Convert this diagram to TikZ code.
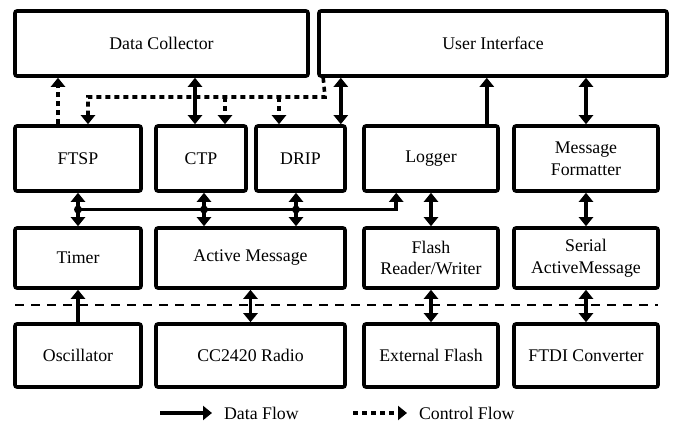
\documentclass[tikz,border=0pt]{standalone}
\usepackage{fontspec}
\setmainfont{Liberation Serif}
\usetikzlibrary{positioning, arrows.meta, calc}
\tikzset{
    >={Triangle[width=7pt,length=4.5pt]}, % filled heads
    blk/.style={draw, line width=1.8pt, rounded corners=1pt, inner sep=0pt, align=center},
    data/.style={line width=1.8pt},
    ctrl/.style={line width=1.8pt, dash pattern=on 2.5pt off 2pt},
    sep/.style={line width=0.7pt, dash pattern=on 4.5pt off 3.5pt},
    every node/.style={font=\fontsize{8.9}{10.8}\selectfont},
}

\begin{document}
\begin{tikzpicture}[x=0.5pt, y=-0.5pt]
  \useasboundingbox (0,0) rectangle (681,427);

  % applications
  \node[blk, minimum width=146.5pt, minimum height=32.5pt] (dc) at (161.5,43.5) {Data Collector};
  \node[blk, minimum width=174pt, minimum height=32.5pt] (ui) at (493,43.5) {User Interface};

  % services
  \node[blk, minimum width=63pt, minimum height=32.5pt] (ftsp) at (78,158.5) {FTSP};
  \node[blk, minimum width=45pt, minimum height=32.5pt] (ctp) at (201,158.5) {CTP};
  \node[blk, minimum width=44.5pt, minimum height=32.5pt] (drip) at (300.5,158.5) {DRIP};
  \node[blk, minimum width=67pt, minimum height=32.5pt] (logger) at (431,158.5) {Logger};
  \node[blk, minimum width=72pt, minimum height=32.5pt] (mf) at (586,158.5) {Message\\Formatter};

  % drivers
  \node[blk, minimum width=63pt, minimum height=30pt] (timer) at (78,258) {Timer};
  \node[blk, minimum width=94.5pt, minimum height=30pt] (am) at (250.5,258) {Active Message};
  \node[blk, minimum width=67pt, minimum height=30pt] (flash) at (431,258) {Flash\\Reader/Writer};
  \node[blk, minimum width=72pt, minimum height=30pt] (sam) at (586,258) {Serial\\ActiveMessage};

  % hardware
  \node[blk, minimum width=63pt, minimum height=31.5pt] (osc) at (78,355.5) {Oscillator};
  \node[blk, minimum width=94.5pt, minimum height=31.5pt] (radio) at (250.5,355.5) {CC2420 Radio};
  \node[blk, minimum width=67pt, minimum height=31.5pt] (ext) at (431,355.5) {External Flash};
  \node[blk, minimum width=72pt, minimum height=31.5pt] (ftdi) at (586,355.5) {FTDI Converter};

  % hardware / software border
  \coordinate (sepl) at (15,305);
  \coordinate (sepr) at (658,305);
  \draw[sep] (sepl) -- (sepr);

  % control flow
  \coordinate (cbus) at (325,97);
  \draw[ctrl,->] ([xshift=-10pt]ftsp.north) -- ([xshift=-10pt]ftsp.north |- dc.south);
  \draw[ctrl,->] ([xshift=3pt]ui.south west) -- (cbus) -| ([xshift=5pt]ftsp.north);
  \draw[ctrl,->] ([xshift=12pt]ctp.north |- cbus) -- ([xshift=12pt]ctp.north);
  \draw[ctrl,->] ([xshift=-10.75pt]drip.north |- cbus) -- ([xshift=-10.75pt]drip.north);

  % data flow, top
  \draw[data,<->] ([xshift=-3pt]ctp.north) -- ([xshift=-3pt]ctp.north |- dc.south);
  \draw[data,<->] ([xshift=-3pt]drip.north east) -- ([xshift=-3pt]drip.north east |- ui.south);
  \draw[data,->] ([xshift=-6.5pt]logger.north east) -- ([xshift=-6.5pt]logger.north east |- ui.south);
  \draw[data,<->] (mf.north) -- (mf.north |- ui.south);

  % data flow, middle
  \coordinate (m1) at ($(ftsp.south)!0.5!(timer.north)$);
  \draw[data,<->] (ftsp.south) -- (timer.north);
  \draw[data,<->] ([xshift=1.5pt]ctp.south) -- ([xshift=1.5pt]ctp.south |- am.north);
  \draw[data,<->] ([xshift=-2.25pt]drip.south) -- ([xshift=-2.25pt]drip.south |- am.north);
  \draw[data,->] (m1) -| ([xshift=17pt]logger.south west);
  \fill (m1) circle (2pt);
  \fill ([xshift=1.5pt]ctp.south |- m1) circle (2pt);
  \fill ([xshift=-2.25pt]drip.south |- m1) circle (2pt);
  \draw[data,<->] (logger.south) -- (flash.north);
  \draw[data,<->] (mf.south) -- (sam.north);

  % data flow, bottom
  \draw[data,->] (osc.north) -- (timer.south);
  \draw[data,<->] (am.south) -- (radio.north);
  \draw[data,<->] (flash.south) -- (ext.north);
  \draw[data,<->] (sam.south) -- (ftdi.north);

  % legend
  \coordinate (dl) at (160,413);
  \node[right] (dtxt) at (217,413) {Data Flow};
  \draw[data,->] (dl) -- ([xshift=-2.5pt]dtxt.west);
  \coordinate (cl) at (353,413);
  \node[right] (ctxt) at (412,413) {Control Flow};
  \draw[ctrl,->] (cl) -- ([xshift=-2.5pt]ctxt.west);
\end{tikzpicture}
\end{document}
